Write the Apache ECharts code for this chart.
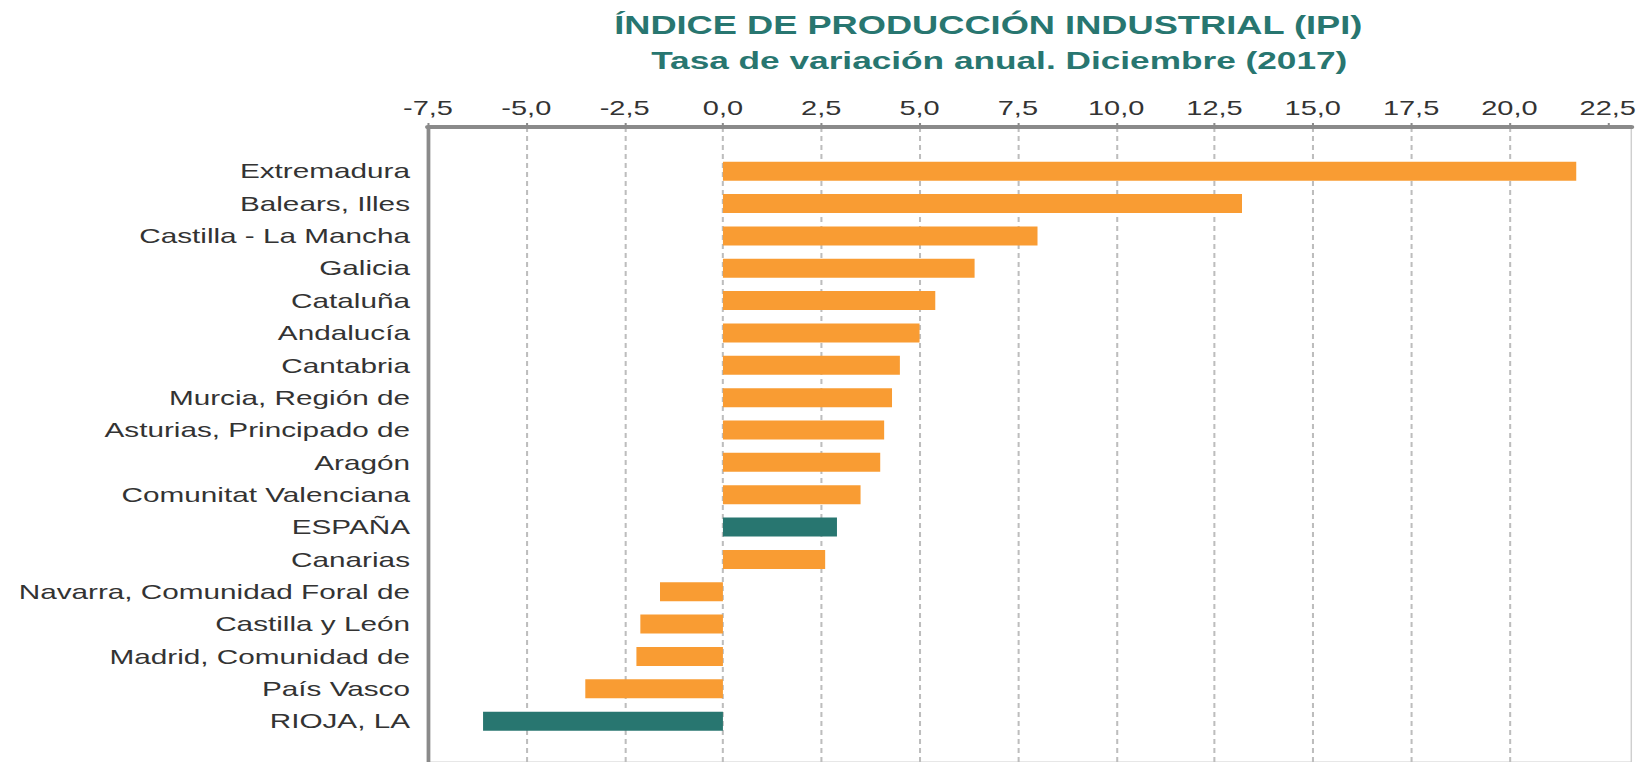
<!DOCTYPE html>
<html>
<head>
<meta charset="utf-8">
<script src="https://cdn.jsdelivr.net/npm/echarts@6/dist/echarts.min.js"></script>
<style>
    html, body { margin: 0; padding: 0; background: #fff; overflow: hidden; }
    #chart { height: 762px; transform-origin: 0 0; }
</style>
</head>
<body>
<div id="chart"></div>
<script>
// the reference picture is stretched sideways, so the chart is drawn narrow and widened
const STRETCH = 1.45;

const categories = [
    "Extremadura",
    "Balears, Illes",
    "Castilla - La Mancha",
    "Galicia",
    "Cataluña",
    "Andalucía",
    "Cantabria",
    "Murcia, Región de",
    "Asturias, Principado de",
    "Aragón",
    "Comunitat Valenciana",
    "ESPAÑA",
    "Canarias",
    "Navarra, Comunidad Foral de",
    "Castilla y León",
    "Madrid, Comunidad de",
    "País Vasco",
    "RIOJA, LA",
];
const values = [21.7, 13.2, 8.0, 6.4, 5.4, 5.0, 4.5, 4.3, 4.1, 4.0, 3.5, 2.9, 2.6, -1.6, -2.1, -2.2, -3.5, -6.1];
const highlighted = ["ESPAÑA", "RIOJA, LA"];
const tickValues = [-7.5, -5, -2.5, 0, 2.5, 5, 7.5, 10, 12.5, 15, 17.5, 20, 22.5];

const title = "ÍNDICE DE PRODUCCIÓN INDUSTRIAL (IPI)";
const subtitle = "Tasa de variación anual. Diciembre (2017)";

const orange = "#f99c33";
const teal = "#287670";
const W = 1645 / STRETCH;
const px = (x) => x / STRETCH;

const el = document.getElementById("chart");
el.style.width = W + "px";
el.style.transform = "scaleX(" + STRETCH + ")";

const fmt = (v) => v.toFixed(1).replace(".", ",");
const font = "'Liberation Sans', Arial, sans-serif";

const chart = echarts.init(el, null, { renderer: "svg" });
chart.setOption({
    animation: false,
    title: [
        {
            text: title,
            left: px(981),
            top: 8,
            textAlign: "center",
            textStyle: { fontFamily: font, fontSize: 25, fontWeight: "bold", color: teal },
        },
        {
            text: subtitle,
            left: px(992),
            top: 44,
            textAlign: "center",
            textStyle: { fontFamily: font, fontSize: 24.3, fontWeight: "bold", color: teal },
        },
    ],
    grid: [
        {
            left: px(428),
            right: W - px(1632),
            top: 127,
            bottom: -30,
            show: true,
            borderColor: "#cfcfcf",
            borderWidth: 1,
        },
        {
            left: px(428),
            right: W - px(1632),
            top: 155,
            height: 32.35 * categories.length,
        },
    ],
    xAxis: [
        {
            gridIndex: 0,
            type: "value",
            position: "top",
            min: -7.5,
            max: 23.1,
            interval: 2.5,
            axisLine: { show: true, onZero: false, lineStyle: { color: "#8a8a8a", width: 4 } },
            axisTick: {
                show: true,
                customValues: tickValues,
                length: 4,
                lineStyle: { color: "#8a8a8a", width: 1.4 },
            },
            axisLabel: {
                customValues: tickValues,
                margin: 9,
                formatter: fmt,
                fontFamily: font,
                fontSize: 20,
                color: "#333",
            },
            splitLine: {
                show: true,
                showMinLine: false,
                showMaxLine: false,
                lineStyle: { color: "#bdbdbd", width: 1.4, type: [5, 4] },
            },
        },
        {
            gridIndex: 1,
            type: "value",
            min: -7.5,
            max: 23.1,
            interval: 2.5,
            show: false,
        },
    ],
    yAxis: [
        {
            gridIndex: 0,
            type: "value",
            min: 0,
            max: 1,
            axisLine: { show: true, onZero: false, lineStyle: { color: "#8a8a8a", width: 2.6 } },
            axisTick: { show: false },
            axisLabel: { show: false },
            splitLine: { show: false },
        },
        {
            gridIndex: 1,
            type: "category",
            inverse: true,
            data: categories,
            axisLine: { show: false },
            axisTick: { show: false },
            axisLabel: {
                margin: px(18),
                fontFamily: font,
                fontSize: 20.5,
                color: "#333",
            },
        },
    ],
    series: [
        {
            type: "bar",
            xAxisIndex: 1,
            yAxisIndex: 1,
            data: values,
            barWidth: 19,
            itemStyle: {
                color: (p) => (highlighted.includes(p.name) ? teal : orange),
            },
        },
    ],
});
</script>
</body>
</html>
